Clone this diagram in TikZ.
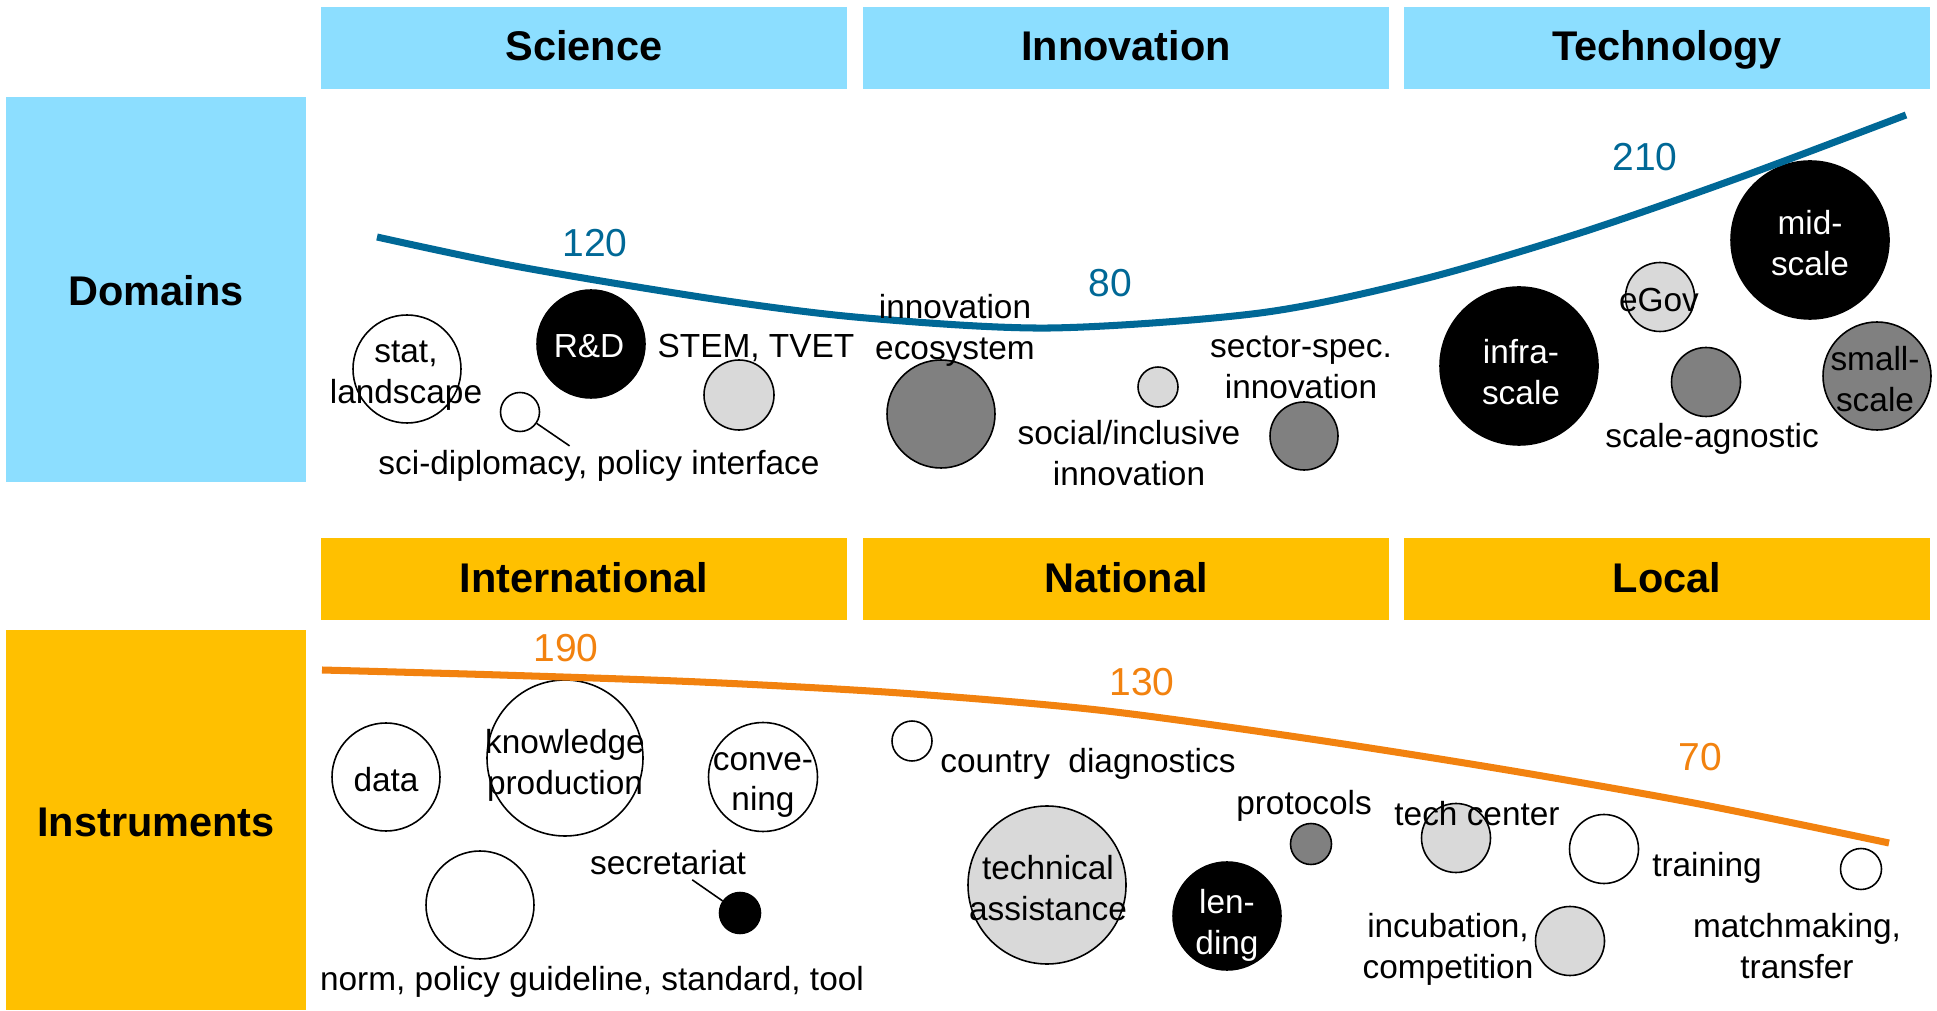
\documentclass[tikz,border=0pt]{standalone}
\usepackage{fontspec}
\setmainfont{Liberation Sans}
\usetikzlibrary{shapes}

\definecolor{headblue}{RGB}{140,222,255}
\definecolor{headgold}{RGB}{255,192,0}
\definecolor{lineblue}{RGB}{0,104,150}
\definecolor{lineorange}{RGB}{242,130,15}
\definecolor{bublight}{RGB}{217,217,217}
\definecolor{bubdark}{RGB}{128,128,128}

\begin{document}
\begin{tikzpicture}[semithick,
	head/.style={fill=#1, minimum width=5.26cm, minimum height=0.82cm, inner sep=0pt, text height=0.74em, text depth=0pt, font=\fontsize{11.8}{14}\selectfont\bfseries},
	side/.style={fill=#1, minimum width=3cm, inner sep=0pt, text height=0.92em, text depth=0pt, font=\fontsize{11.8}{14}\selectfont\bfseries},
	bub/.style={circle, draw, fill=white, line width=0.45pt, inner sep=0pt, minimum size=#1},
	blk/.style={fill=black}, drk/.style={fill=bubdark}, lgt/.style={fill=bublight},
	txt/.style={font=\fontsize{9.5}{11.6}\selectfont, align=center, inner sep=1pt},
	wtxt/.style={txt, text=white},
	num/.style={font=\fontsize{11.1}{13}\selectfont, text=#1}]
	\useasboundingbox (0, 0) rectangle (19.37, 10.10);

	\node[head=headblue] (sci) at (5.84, 9.62) {Science};
	\node[head=headblue] (inno) at (11.26, 9.62) {Innovation};
	\node[head=headblue] (tech) at (16.67, 9.62) {Technology};
	\node[side=headblue, minimum height=3.85cm] (dom) at (1.56, 7.205) {Domains};

	\node[head=headgold] (intl) at (5.84, 4.31) {International};
	\node[head=headgold] (natl) at (11.26, 4.31) {National};
	\node[head=headgold] (locl) at (16.67, 4.31) {Local};
	\node[side=headgold, minimum height=3.8cm] (ins) at (1.56, 1.90) {Instruments};

	\node[bub=1.08cm] (stat) at (4.07, 6.41) {};
	\node[bub=0.39cm] (dipl) at (5.20, 5.98) {};
	\node[bub=1.08cm, blk] (rd) at (5.91, 6.66) {};
	\node[bub=0.70cm, lgt] (stem) at (7.39, 6.15) {};
	\node[bub=1.08cm, drk] (eco) at (9.41, 5.96) {};
	\node[bub=0.40cm, lgt] (soc) at (11.58, 6.23) {};
	\node[bub=0.68cm, drk] (sect) at (13.04, 5.74) {};
	\node[bub=1.58cm, blk] (infra) at (15.19, 6.44) {};
	\node[bub=0.69cm, lgt] (egov) at (16.60, 7.13) {};
	\node[bub=1.58cm, blk] (mid) at (18.10, 7.70) {};
	\node[bub=0.69cm, drk] (agn) at (17.06, 6.28) {};
	\node[bub=1.08cm, drk] (small) at (18.77, 6.34) {};

	\node[bub=1.08cm] (data) at (3.86, 2.33) {};
	\node[bub=1.56cm] (know) at (5.65, 2.52) {};
	\node[bub=1.09cm] (conv) at (7.63, 2.33) {};
	\node[bub=1.08cm] (norm) at (4.80, 1.05) {};
	\node[bub=0.41cm, blk] (secr) at (7.40, 0.97) {};
	\node[bub=0.40cm] (ctry) at (9.12, 2.69) {};
	\node[bub=1.58cm, lgt] (ta) at (10.47, 1.25) {};
	\node[bub=1.08cm, blk] (lend) at (12.27, 0.94) {};
	\node[bub=0.41cm, drk] (prot) at (13.11, 1.66) {};
	\node[bub=0.69cm, lgt] (tc) at (14.56, 1.72) {};
	\node[bub=0.69cm] (train) at (16.04, 1.61) {};
	\node[bub=0.41cm] (match) at (18.61, 1.41) {};
	\node[bub=0.69cm, lgt] (incub) at (15.70, 0.69) {};

	\draw[lineblue, line width=2pt] plot[smooth] coordinates {(3.77, 7.73) (5.20, 7.43) (7.20, 7.10) (8.66, 6.92) (10.50, 6.82) (12.60, 6.97) (14.20, 7.30) (15.80, 7.77) (17.41, 8.33) (19.06, 8.95)};
	\draw[lineorange, line width=2pt] plot[smooth] coordinates {(3.22, 3.40) (5.00, 3.35) (7.00, 3.28) (9.00, 3.17) (10.98, 3.00) (12.97, 2.73) (14.95, 2.42) (16.94, 2.07) (18.89, 1.67)};

	\node[num=lineblue] (n120) at (5.95, 7.67) {120};
	\node[num=lineblue] (n80) at (11.10, 7.27) {80};
	\node[num=lineblue] (n210) at (16.45, 8.53) {210};
	\node[num=lineorange] (n190) at (5.66, 3.62) {190};
	\node[num=lineorange] (n130) at (11.42, 3.28) {130};
	\node[num=lineorange] (n70) at (17.00, 2.53) {70};

	\node[txt] (tstat) at (4.06, 6.34) {stat,\\landscape};
	\node[txt] (tdipl) at (5.99, 5.44) {sci-diplomacy, policy interface};
	\node[wtxt] (trd) at (5.89, 6.64) {R\&D};
	\node[txt] (tstem) at (7.56, 6.62) {STEM, TVET};
	\node[txt] (teco) at (9.55, 6.80) {innovation\\ecosystem};
	\node[txt] (tsoc) at (11.29, 5.57) {social/inclusive\\innovation};
	\node[txt] (tsect) at (13.01, 6.43) {sector-spec.\\innovation};
	\node[wtxt] (tinfra) at (15.21, 6.38) {infra-\\scale};
	\node[txt] (tegov) at (16.59, 7.10) {eGov};
	\node[wtxt] (tmid) at (18.10, 7.67) {mid-\\scale};
	\node[txt] (tagn) at (17.12, 5.71) {scale-agnostic};
	\node[txt] (tsmall) at (18.75, 6.31) {small-\\scale};

	\node[txt] (tdata) at (3.86, 2.30) {data};
	\node[txt] (tknow) at (5.65, 2.45) {knowledge\\production};
	\node[txt] (tconv) at (7.63, 2.25) {conve-\\ning};
	\node[txt] (tnorm) at (5.92, 0.28) {norm, policy guideline, standard, tool};
	\node[txt] (tsecr) at (6.68, 1.47) {secretariat};
	\node[txt] (tctry) at (10.88, 2.46) {country~~diagnostics};
	\node[txt] (tta) at (10.48, 1.22) {technical\\assistance};
	\node[wtxt] (tlend) at (12.27, 0.85) {len-\\ding};
	\node[txt] (tprot) at (13.04, 2.04) {protocols};
	\node[txt] (ttc) at (14.77, 1.96) {tech center};
	\node[txt] (ttrain) at (17.07, 1.42) {training};
	\node[txt] (tmatch) at (17.97, 0.64) {matchmaking,\\transfer};
	\node[txt] (tincub) at (14.48, 0.61) {incubation,\\competition};

	\draw[line width=0.45pt] (dipl) -- (tdipl);
	\draw[line width=0.45pt] (tsecr) -- (secr);
\end{tikzpicture}
\end{document}
